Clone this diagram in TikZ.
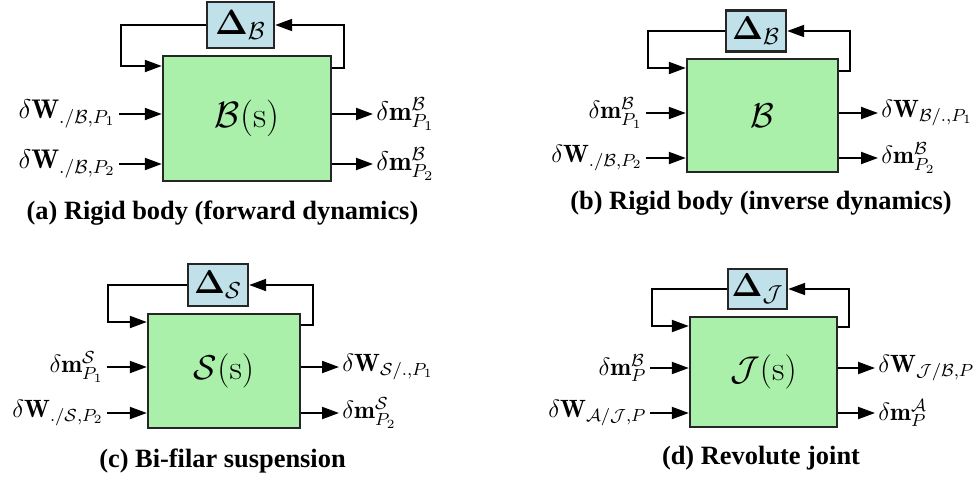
\RequirePackage{fix-cm}
\documentclass[tikz,border=0pt]{standalone}
\usepackage{amsmath,amssymb}
\usepackage{bm}
\usepackage{fontspec}
\newfontfamily\capfont{Liberation Serif}
\usetikzlibrary{arrows.meta}
\definecolor{sysgreen}{RGB}{170,240,170}
\definecolor{uncblue}{RGB}{192,224,234}

\begin{document}
\begin{tikzpicture}[x=0.5pt, y=-0.5pt,
    sys/.style={draw=black!85, line width=1.2pt, fill=sysgreen, inner sep=0pt, font=\fontsize{17.2}{19}\selectfont},
    unc/.style={draw=black!85, line width=1.2pt, fill=uncblue, inner sep=0pt, font=\fontsize{16.5}{18}\selectfont},
    sig/.style={line width=1pt, -{Triangle[length=8.5pt,width=6pt]}},
    lbl/.style={inner sep=1.5pt, font=\fontsize{12.5}{14}\selectfont},
    subcap/.style={font=\capfont\bfseries\fontsize{13.2}{15}\selectfont}]
  \useasboundingbox (0,0) rectangle (977,483);

  % (a) rigid body, forward dynamics
  \node[sys, minimum width=84pt, minimum height=62.5pt, font=\fontsize{18.3}{20}\selectfont] (sA) at (247,118.5) {$\mathcal{B}(\mathrm{s})$};
  \node[unc, minimum width=33.5pt, minimum height=23pt, font=\fontsize{17.5}{19}\selectfont] (dA) at (240.5,25) {$\bm{\Delta}_{\mathcal{B}}$};
  \coordinate (aL) at (121,66);
  \coordinate (aR) at (344,68);
  \draw[sig] (dA.west) -| (aL) -- (aL -| sA.west);
  \draw[sig] (aR -| sA.east) -- (aR) |- (dA.east);
  \node[lbl, anchor=east, font=\fontsize{13.5}{15}\selectfont] (aI1) at (119,114) {$\delta\mathbf{W}_{./\mathcal{B},P_1}$};
  \node[lbl, anchor=east, font=\fontsize{13.5}{15}\selectfont] (aI2) at (119,164) {$\delta\mathbf{W}_{./\mathcal{B},P_2}$};
  \node[lbl, anchor=west, font=\fontsize{13.5}{15}\selectfont] (aO1) at (373,114) {$\delta\mathbf{m}^{\mathcal{B}}_{P_1}$};
  \node[lbl, anchor=west, font=\fontsize{13.5}{15}\selectfont] (aO2) at (373,164) {$\delta\mathbf{m}^{\mathcal{B}}_{P_2}$};
  \draw[sig] (aI1.east) -- (aI1.east -| sA.west);
  \draw[sig] (aI2.east) -- (aI2.east -| sA.west);
  \draw[sig] (aO1.west -| sA.east) -- (aO1.west);
  \draw[sig] (aO2.west -| sA.east) -- (aO2.west);
  \node[subcap] (capA) at (222.5,213) {(a) Rigid body (forward dynamics)};

  % (b) rigid body, inverse dynamics
  \node[sys, minimum width=75.5pt, minimum height=56.5pt] (sB) at (762.5,115.5) {$\mathcal{B}$};
  \node[unc, minimum width=30pt, minimum height=20.5pt] (dB) at (756,31) {$\bm{\Delta}_{\mathcal{B}}$};
  \coordinate (bL) at (648,68);
  \coordinate (bR) at (850,71);
  \draw[sig] (dB.west) -| (bL) -- (bL -| sB.west);
  \draw[sig] (bR -| sB.east) -- (bR) |- (dB.east);
  \node[lbl, anchor=east] (bI1) at (646,113) {$\delta\mathbf{m}^{\mathcal{B}}_{P_1}$};
  \node[lbl, anchor=east] (bI2) at (646,158) {$\delta\mathbf{W}_{./\mathcal{B},P_2}$};
  \node[lbl, anchor=west] (bO1) at (878,113) {$\delta\mathbf{W}_{\mathcal{B}/.,P_1}$};
  \node[lbl, anchor=west] (bO2) at (878,158) {$\delta\mathbf{m}^{\mathcal{B}}_{P_2}$};
  \draw[sig] (bI1.east) -- (bI1.east -| sB.west);
  \draw[sig] (bI2.east) -- (bI2.east -| sB.west);
  \draw[sig] (bO1.west -| sB.east) -- (bO1.west);
  \draw[sig] (bO2.west -| sB.east) -- (bO2.west);
  \node[subcap] (capB) at (761,203) {(b) Rigid body (inverse dynamics)};

  % (c) bi-filar suspension
  \node[sys, minimum width=76pt, minimum height=57pt] (sC) at (224,371) {$\mathcal{S}(\mathrm{s})$};
  \node[unc, minimum width=30pt, minimum height=21pt] (dC) at (218,285) {$\bm{\Delta}_{\mathcal{S}}$};
  \coordinate (cL) at (108,322);
  \coordinate (cR) at (313,325);
  \draw[sig] (dC.west) -| (cL) -- (cL -| sC.west);
  \draw[sig] (cR -| sC.east) -- (cR) |- (dC.east);
  \node[lbl, anchor=east] (cI1) at (107,367) {$\delta\mathbf{m}^{\mathcal{S}}_{P_1}$};
  \node[lbl, anchor=east] (cI2) at (107,413) {$\delta\mathbf{W}_{./\mathcal{S},P_2}$};
  \node[lbl, anchor=west] (cO1) at (339,367) {$\delta\mathbf{W}_{\mathcal{S}/.,P_1}$};
  \node[lbl, anchor=west] (cO2) at (339,413) {$\delta\mathbf{m}^{\mathcal{S}}_{P_2}$};
  \draw[sig] (cI1.east) -- (cI1.east -| sC.west);
  \draw[sig] (cI2.east) -- (cI2.east -| sC.west);
  \draw[sig] (cO1.west -| sC.east) -- (cO1.west);
  \draw[sig] (cO2.west -| sC.east) -- (cO2.west);
  \node[subcap] (capC) at (222.5,461) {(c) Bi-filar suspension};

  % (d) revolute joint
  \node[sys, minimum width=73.5pt, minimum height=55pt] (sD) at (763.5,372) {$\mathcal{J}(\mathrm{s})$};
  \node[unc, minimum width=29.5pt, minimum height=20pt] (dD) at (757.5,289) {$\bm{\Delta}_{\mathcal{J}}$};
  \coordinate (dL) at (652,326);
  \coordinate (dR) at (849,327);
  \draw[sig] (dD.west) -| (dL) -- (dL -| sD.west);
  \draw[sig] (dR -| sD.east) -- (dR) |- (dD.east);
  \node[lbl, anchor=east] (dI1) at (650,368) {$\delta\mathbf{m}^{\mathcal{B}}_{P}$};
  \node[lbl, anchor=east] (dI2) at (650,413) {$\delta\mathbf{W}_{\mathcal{A}/\mathcal{J},P}$};
  \node[lbl, anchor=west] (dO1) at (875,368) {$\delta\mathbf{W}_{\mathcal{J}/\mathcal{B},P}$};
  \node[lbl, anchor=west] (dO2) at (875,413) {$\delta\mathbf{m}^{\mathcal{A}}_{P}$};
  \draw[sig] (dI1.east) -- (dI1.east -| sD.west);
  \draw[sig] (dI2.east) -- (dI2.east -| sD.west);
  \draw[sig] (dO1.west -| sD.east) -- (dO1.west);
  \draw[sig] (dO2.west -| sD.east) -- (dO2.west);
  \node[subcap] (capD) at (761,458) {(d) Revolute joint};
\end{tikzpicture}
\end{document}
